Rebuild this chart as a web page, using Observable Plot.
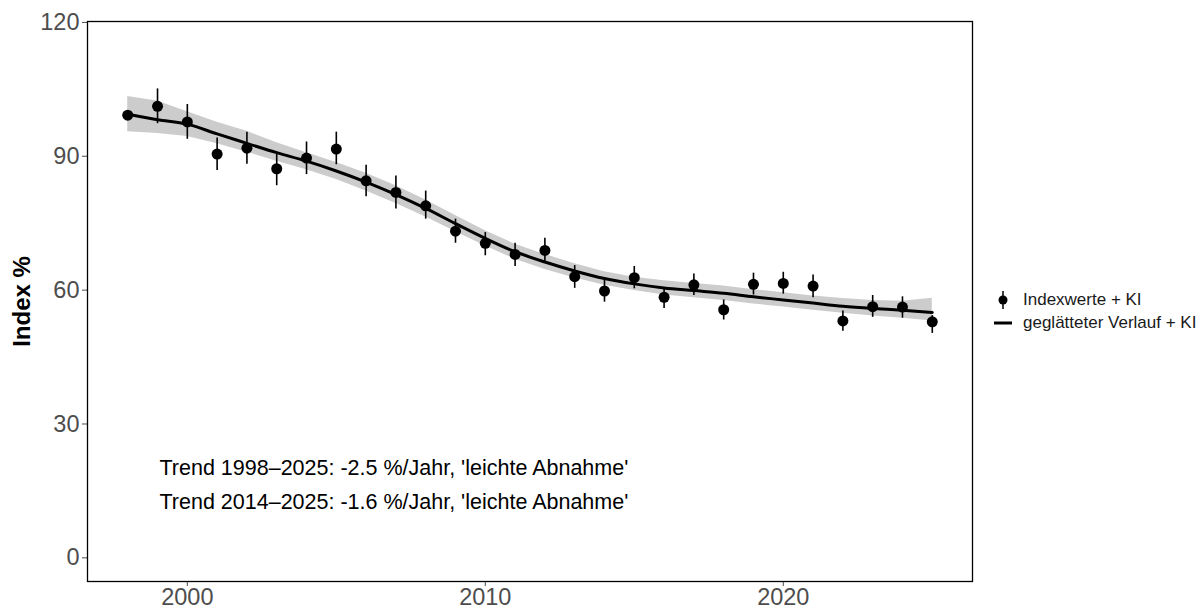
<!DOCTYPE html>
<html>
<head>
<meta charset="utf-8">
<script src="https://cdn.jsdelivr.net/npm/d3@7"></script>
<script src="https://cdn.jsdelivr.net/npm/@observablehq/plot@0.6"></script>
<style>
  html, body { margin: 0; padding: 0; background: #fff; }
  #wrap { position: relative; width: 1204px; height: 610px; font-family: "Liberation Sans", Arial, sans-serif; }
  #legend { position: absolute; left: 992px; top: 289px; font-size: 17px; color: #1a1a1a; line-height: 22.5px; }
  #legend .row { display: flex; align-items: center; height: 22.5px; }
  #legend svg { width: 22px; height: 22px; margin-right: 9px; }
</style>
</head>
<body>
<div id="wrap">
  <div id="chart"></div>
  <div id="legend">
    <div class="row"><svg viewBox="0 0 22 22"><line x1="11" x2="11" y1="2" y2="20" stroke="#000" stroke-width="1.5"/><circle cx="11" cy="11" r="4.5" fill="#000"/></svg><span>Indexwerte + KI</span></div>
    <div class="row"><svg viewBox="0 0 22 22"><line x1="2" x2="20" y1="11" y2="11" stroke="#000" stroke-width="3"/></svg><span>geglätteter Verlauf + KI</span></div>
  </div>
</div>
<script>
const years = [1998,1999,2000,2001,2002,2003,2004,2005,2006,2007,2008,2009,2010,2011,2012,2013,2014,2015,2016,2017,2018,2019,2020,2021,2022,2023,2024,2025];
const indexValues = [99.2,101.2,97.7,90.5,91.8,87.2,89.6,91.6,84.5,81.9,78.9,73.2,70.5,68.0,68.9,63.0,59.8,62.8,58.4,61.2,55.6,61.3,61.5,60.9,53.1,56.3,56.2,52.9];
const indexLower = [99.2,97.3,93.8,86.8,88.2,83.4,85.9,88.1,80.9,78.2,75.9,70.5,67.7,65.3,66.4,60.4,57.3,60.3,55.9,58.8,53.3,58.9,59.1,58.3,50.8,53.9,53.7,50.3];
const indexUpper = [99.2,105.1,101.6,94.1,95.4,90.4,93.2,95.4,88.0,85.6,82.2,75.9,72.9,70.5,71.6,65.5,62.3,65.3,60.6,63.6,57.8,63.8,64.0,63.4,55.3,58.8,58.5,54.3];
const smoothValues = [99.4,98.2,97.2,95.0,92.9,90.8,88.9,86.7,84.2,81.4,78.3,74.9,71.6,68.6,66.3,64.3,62.6,61.4,60.5,59.9,59.3,58.5,57.8,57.1,56.4,55.9,55.5,55.0];
const smoothLower = [95.5,95.1,94.4,92.8,90.9,88.9,87.0,84.8,82.2,79.4,76.4,73.1,69.9,66.9,64.6,62.7,61.1,59.9,58.9,58.3,57.7,56.9,56.2,55.5,54.8,54.2,53.7,53.1];
const smoothUpper = [103.4,102.4,100.0,97.6,95.6,93.0,90.8,88.6,86.2,83.4,80.2,76.7,73.3,70.3,68.0,65.9,64.1,62.9,62.1,61.5,60.9,60.1,59.4,58.7,58.1,57.7,57.5,58.2];
const yTicks = [0,30,60,90,120];
const xTicks = [2000,2010,2020];
const trendLabels = ["Trend 1998\u20132025: -2.5 %/Jahr, 'leichte Abnahme'", "Trend 2014\u20132025: -1.6 %/Jahr, 'leichte Abnahme'"];
const yTitle = "Index %";

const pts = years.map((y, i) => ({year: y, v: indexValues[i], lo: indexLower[i], hi: indexUpper[i]}));
const sm = years.map((y, i) => ({year: y, v: smoothValues[i], lo: smoothLower[i], hi: smoothUpper[i]}));

const chart = Plot.plot({
  width: 1204,
  height: 610,
  marginLeft: 87,
  marginRight: 232,
  marginTop: 21,
  marginBottom: 29,
  style: {fontFamily: "Liberation Sans, Arial, sans-serif", fontSize: "23px", background: "#fff"},
  x: {domain: [1996.65, 2026.35]},
  y: {domain: [-5.3, 120.2]},
  marks: [
    Plot.areaY(sm, {x: "year", y1: "lo", y2: "hi", fill: "#cccccc"}),
    Plot.line(sm, {x: "year", y: "v", stroke: "#000", strokeWidth: 3, curve: "monotone-x"}),
    Plot.ruleX(pts, {x: "year", y1: "lo", y2: "hi", stroke: "#000", strokeWidth: 1.6}),
    Plot.dot(pts, {x: "year", y: "v", r: 5.5, fill: "#000"}),
    Plot.text([trendLabels[0]], {frameAnchor: "top-left", dx: 72, dy: 447, text: d => d, fontSize: 21.5, fill: "#000", lineAnchor: "middle"}),
    Plot.text([trendLabels[1]], {frameAnchor: "top-left", dx: 72, dy: 481, text: d => d, fontSize: 21.5, fill: "#000", lineAnchor: "middle"}),
    Plot.axisX({ticks: xTicks, tickFormat: d => String(d), tickSize: 5, tickPadding: 2, fill: "#4d4d4d", stroke: "#4d4d4d", fontSize: 23.5, label: null}),
    Plot.axisY({ticks: yTicks, tickSize: 5, tickPadding: 3, fill: "#4d4d4d", stroke: "#4d4d4d", fontSize: 23.5, label: null}),
    Plot.text([yTitle], {frameAnchor: "left", dx: -65, rotate: -90, textAnchor: "middle", text: d => d, fontSize: 24, fontWeight: "bold", fill: "#000"}),
    Plot.frame({stroke: "#000", strokeWidth: 1.3})
  ]
});
document.getElementById("chart").appendChild(chart);
</script>
</body>
</html>
